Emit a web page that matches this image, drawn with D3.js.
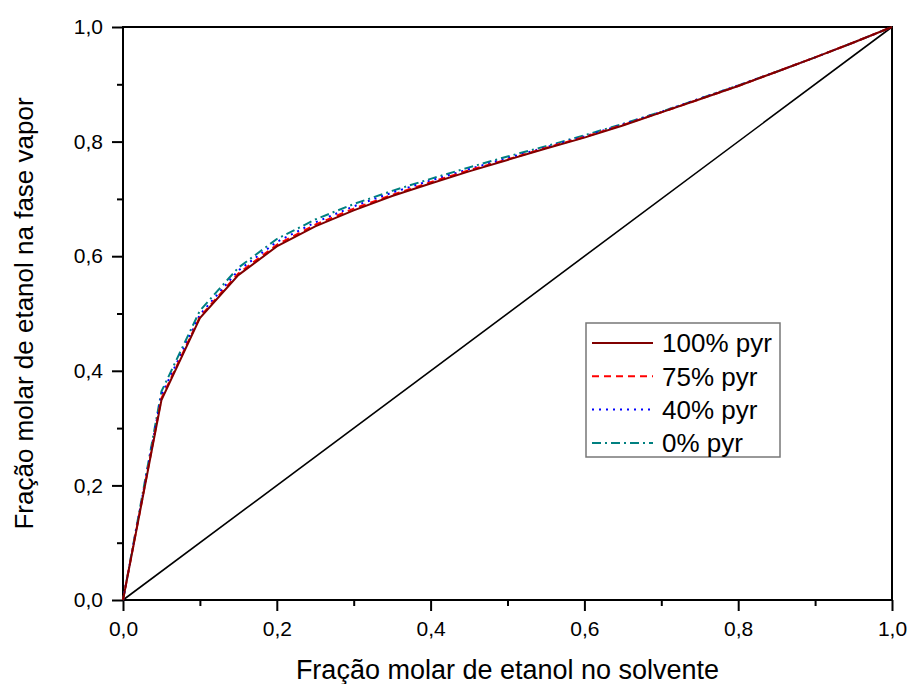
<!DOCTYPE html>
<html lang="pt">
<head>
    <title>Equilíbrio líquido-vapor etanol</title>
    <meta charset="utf-8"/>
    <script src="https://d3js.org/d3.v7.min.js"></script>
    <style>
        body { margin: 0; background: #fff; }
        text { font-family: "Liberation Sans", Arial, sans-serif; }
        .domain { display: none; }
    </style>
</head>
<body>
<div id="viz">
    <svg width="911" height="684"></svg>
</div>

<script type="text/javascript">

    // fração molar de etanol no solvente (eixo x)
    const xSolvente = [0, 0.05, 0.1, 0.15, 0.2, 0.25, 0.3, 0.35, 0.4, 0.45, 0.5,
        0.55, 0.6, 0.65, 0.7, 0.75, 0.8, 0.85, 0.9, 0.95, 1.0];

    // fração molar na fase vapor, uma lista por série
    const y100 = [0, 0.349, 0.492, 0.567, 0.617, 0.652, 0.680, 0.705, 0.727, 0.748, 0.768,
        0.788, 0.807, 0.828, 0.851, 0.874, 0.897, 0.922, 0.947, 0.973, 1.0];
    const y75 = [0, 0.352, 0.494, 0.570, 0.620, 0.655, 0.683, 0.707, 0.729, 0.750, 0.769,
        0.789, 0.808, 0.829, 0.851, 0.874, 0.897, 0.922, 0.947, 0.973, 1.0];
    const y40 = [0, 0.358, 0.498, 0.575, 0.625, 0.659, 0.687, 0.711, 0.732, 0.752, 0.771,
        0.790, 0.809, 0.830, 0.852, 0.875, 0.898, 0.922, 0.947, 0.973, 1.0];
    const y0 = [0, 0.364, 0.505, 0.580, 0.630, 0.664, 0.691, 0.714, 0.735, 0.755, 0.774,
        0.792, 0.811, 0.831, 0.852, 0.875, 0.898, 0.922, 0.947, 0.973, 1.0];

    // diagonal x = y
    const diagonal = [0, 1];

    const nomes = ["100% pyr", "75% pyr", "40% pyr", "0% pyr"];
    const ticksMaiores = [0, 0.2, 0.4, 0.6, 0.8, 1.0];
    const ticksMenores = [0.1, 0.3, 0.5, 0.7, 0.9];

    const series = [
        {nome: nomes[0], y: y100, cor: "#800000", dash: null},
        {nome: nomes[1], y: y75, cor: "#ff0000", dash: "7,5"},
        {nome: nomes[2], y: y40, cor: "#0000ff", dash: "2,5"},
        {nome: nomes[3], y: y0, cor: "#008080", dash: "9,4,2,4"}
    ];

    const margem = {left: 123, top: 27, right: 19, bottom: 84};
    const largura = 911 - margem.left - margem.right;
    const altura = 684 - margem.top - margem.bottom;

    const escalaX = d3.scaleLinear().domain([0, 1]).range([0, largura]);
    const escalaY = d3.scaleLinear().domain([0, 1]).range([altura, 0]);

    const svg = d3.select("svg");
    const g = svg.append("g")
        .attr("transform", "translate(" + margem.left + "," + margem.top + ")");

    const virgula = d => d3.format(".1f")(d).replace(".", ",");

    // eixo x: ticks maiores e menores
    g.append("g")
        .attr("transform", "translate(0," + altura + ")")
        .call(d3.axisBottom(escalaX).tickValues(ticksMaiores).tickSize(11).tickPadding(10).tickFormat(virgula))
        .call(a => a.selectAll("text").style("font-size", "21px").attr("fill", "#000"))
        .call(a => a.selectAll("line").attr("stroke", "#000").attr("stroke-width", 2));
    g.append("g")
        .attr("transform", "translate(0," + altura + ")")
        .call(d3.axisBottom(escalaX).tickValues(ticksMenores).tickSize(6).tickFormat(""))
        .call(a => a.selectAll("line").attr("stroke", "#000").attr("stroke-width", 2));

    // eixo y
    g.append("g")
        .call(d3.axisLeft(escalaY).tickValues(ticksMaiores).tickSize(11).tickPadding(9).tickFormat(virgula))
        .call(a => a.selectAll("text").style("font-size", "21px").attr("fill", "#000"))
        .call(a => a.selectAll("line").attr("stroke", "#000").attr("stroke-width", 2));
    g.append("g")
        .call(d3.axisLeft(escalaY).tickValues(ticksMenores).tickSize(6).tickFormat(""))
        .call(a => a.selectAll("line").attr("stroke", "#000").attr("stroke-width", 2));

    // moldura
    g.append("rect")
        .attr("width", largura)
        .attr("height", altura)
        .attr("fill", "none")
        .attr("stroke", "#000")
        .attr("stroke-width", 2);

    // diagonal
    const linhaDiag = d3.line().x(d => escalaX(d)).y(d => escalaY(d));
    g.append("path")
        .attr("d", linhaDiag(diagonal))
        .attr("fill", "none")
        .attr("stroke", "#000")
        .attr("stroke-width", 1.6);

    // curvas (desenha da última para a primeira, 100% por cima)
    series.slice().reverse().forEach(s => {
        const linha = d3.line()
            .x((d, i) => escalaX(xSolvente[i]))
            .y(d => escalaY(d));
        g.append("path")
            .attr("d", linha(s.y))
            .attr("fill", "none")
            .attr("stroke", s.cor)
            .attr("stroke-width", 2)
            .attr("stroke-dasharray", s.dash);
    });

    // títulos dos eixos
    svg.append("text")
        .attr("x", margem.left + largura / 2)
        .attr("y", 679)
        .attr("text-anchor", "middle")
        .style("font-size", "27px")
        .text("Fração molar de etanol no solvente");

    svg.append("text")
        .attr("transform", "translate(33," + (margem.top + altura / 2) + ") rotate(-90)")
        .attr("text-anchor", "middle")
        .style("font-size", "26px")
        .text("Fração molar de etanol na fase vapor");

    // legenda
    const legenda = svg.append("g").attr("transform", "translate(586,323)");
    legenda.append("rect")
        .attr("width", 194)
        .attr("height", 134)
        .attr("fill", "#fff")
        .attr("stroke", "#777")
        .attr("stroke-width", 1.5);

    series.forEach((s, i) => {
        const yy = 20 + i * 33.3;
        legenda.append("line")
            .attr("x1", 6).attr("x2", 67)
            .attr("y1", yy).attr("y2", yy)
            .attr("stroke", s.cor)
            .attr("stroke-width", 2)
            .attr("stroke-dasharray", s.dash);
        legenda.append("text")
            .attr("x", 76)
            .attr("y", yy)
            .attr("dy", "0.36em")
            .style("font-size", "26px")
            .text(s.nome);
    });

</script>
</body>
</html>
